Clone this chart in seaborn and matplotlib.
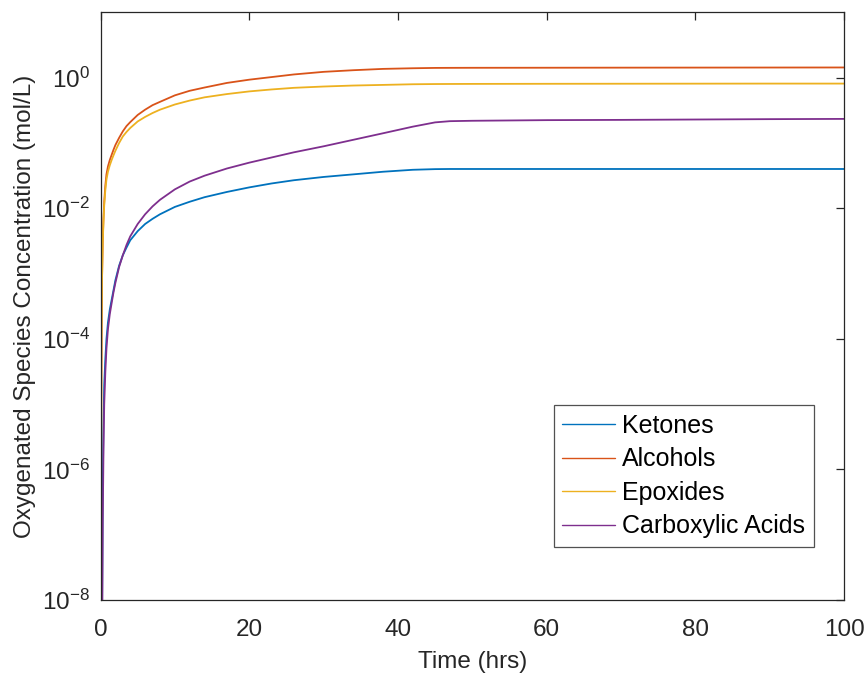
import numpy as np
import pandas as pd
import matplotlib
matplotlib.use("Agg")
import matplotlib.pyplot as plt
import seaborn as sns
from matplotlib.ticker import FixedLocator, FuncFormatter, NullLocator

# ---- data ----
time_hrs = [0, 0.05, 0.1, 0.15, 0.2, 0.3, 0.4, 0.5, 0.65, 0.8,
            1, 1.25, 1.5, 1.75, 2, 2.5, 3, 3.5, 4, 5,
            6, 7, 8, 10, 12, 14, 17, 20, 23, 26,
            30, 34, 38, 42, 45, 47, 50, 60, 70, 80,
            90, 100]

ketones = [1e-12, 3.2e-12, 1e-11, 1e-10, 3.2e-9, 5.0e-7, 5.0e-6, 2.0e-5, 5.0e-5, 1.0e-4,
           1.78e-4, 2.82e-4, 3.98e-4, 5.6e-4, 7.9e-4, 1.32e-3, 1.91e-3, 2.51e-3, 3.24e-3, 4.47e-3,
           5.75e-3, 6.9e-3, 8.1e-3, 1.05e-2, 1.26e-2, 1.48e-2, 1.78e-2, 2.09e-2, 2.40e-2, 2.69e-2,
           3.02e-2, 3.31e-2, 3.63e-2, 3.89e-2, 3.98e-2, 4.0e-2, 4.0e-2, 4.0e-2, 4.0e-2, 4.0e-2,
           4.0e-2, 4.0e-2]

alcohols = [1e-12, 1e-8, 1e-5, 1.58e-4, 7.9e-4, 3.16e-3, 7.1e-3, 1.26e-2, 2.24e-2, 3.31e-2,
            4.37e-2, 5.5e-2, 6.6e-2, 7.9e-2, 9.3e-2, 0.120, 0.151, 0.182, 0.209, 0.269,
            0.324, 0.380, 0.427, 0.537, 0.631, 0.708, 0.832, 0.933, 1.023, 1.122,
            1.230, 1.303, 1.365, 1.396, 1.413, 1.416, 1.419, 1.422, 1.426, 1.429,
            1.432, 1.435]

epoxides = [1e-12, 1e-8, 1e-5, 1.58e-4, 7.9e-4, 3.02e-3, 6.3e-3, 1.12e-2, 1.91e-2, 2.75e-2,
            3.63e-2, 4.57e-2, 5.5e-2, 6.5e-2, 7.6e-2, 0.100, 0.126, 0.148, 0.170, 0.214,
            0.251, 0.288, 0.324, 0.389, 0.447, 0.501, 0.562, 0.617, 0.661, 0.700,
            0.733, 0.759, 0.776, 0.794, 0.800, 0.802, 0.804, 0.807, 0.809, 0.811,
            0.813, 0.813]

carboxylic_acids = [1e-12, 3.2e-12, 1e-11, 3.2e-11, 1e-9, 1.58e-7, 2.0e-6, 1.0e-5, 3.16e-5, 7.1e-5,
                    1.41e-4, 2.40e-4, 3.55e-4, 5.2e-4, 7.2e-4, 1.26e-3, 1.91e-3, 2.75e-3, 3.72e-3, 5.75e-3,
                    8.1e-3, 1.07e-2, 1.35e-2, 1.95e-2, 2.57e-2, 3.16e-2, 4.07e-2, 5.0e-2, 6.0e-2, 7.2e-2,
                    8.9e-2, 0.112, 0.141, 0.178, 0.207, 0.216, 0.219, 0.224, 0.226, 0.229,
                    0.232, 0.234]

species = ["Ketones", "Alcohols", "Epoxides", "Carboxylic Acids"]
colors = ["#0072BD", "#D95319", "#EDB120", "#7E2F8E"]

ytick_values = [1e-8, 1e-6, 1e-4, 1e-2, 1e0]
xtick_values = [0, 20, 40, 60, 80, 100]

# ---- long-form table ----
series = [ketones, alcohols, epoxides, carboxylic_acids]
df = pd.concat([pd.DataFrame({"Time": time_hrs, "Conc": vals, "Species": name})
                for name, vals in zip(species, series)], ignore_index=True)

sns.set_theme(style="white")
plt.rcParams["font.family"] = ["Liberation Sans", "DejaVu Sans"]
plt.rcParams["mathtext.fontset"] = "custom"
plt.rcParams["mathtext.rm"] = "Liberation Sans"
plt.rcParams["mathtext.it"] = "Liberation Sans:italic"
plt.rcParams["mathtext.bf"] = "Liberation Sans:bold"

fig = plt.figure(figsize=(8.68, 6.79), dpi=100)
ax = fig.add_axes([0.1158, 0.1163, 0.8566, 0.8654])

sns.lineplot(data=df, x="Time", y="Conc", hue="Species", hue_order=species,
             palette=colors, estimator=None, sort=False, linewidth=1.3, ax=ax)

ax.set_yscale("log")
ax.set_xlim(0, 100)
ax.set_ylim(1e-8, 10)

dark = "#262626"
ax.xaxis.set_major_locator(FixedLocator(xtick_values))
ax.yaxis.set_major_locator(FixedLocator(ytick_values))
ax.yaxis.set_minor_locator(NullLocator())
ax.yaxis.set_major_formatter(FuncFormatter(
    lambda v, p: r"$\mathregular{10^{%d}}$" % int(round(np.log10(v)))))
ax.xaxis.set_major_formatter(FuncFormatter(lambda v, p: "%d" % v))

ax.tick_params(axis="both", which="both", direction="in", length=6, width=0.9,
               colors=dark, labelsize=17.5, top=True, right=True,
               labelcolor=dark)
ax.tick_params(axis="x", pad=14)
ax.tick_params(axis="y", pad=7.5)
for s in ax.spines.values():
    s.set_visible(True)
    s.set_color(dark)
    s.set_linewidth(0.9)

ax.set_xlabel("Time (hrs)", fontsize=17.5, color=dark, labelpad=7)
ax.set_ylabel("Oxygenated Species Concentration (mol/L)", fontsize=17.5,
              color=dark, labelpad=4)

leg = ax.legend(loc="lower right", bbox_to_anchor=(0.9596, 0.090),
                borderaxespad=0, fontsize=18, frameon=True, fancybox=False,
                handlelength=2.1, handletextpad=0.3, labelspacing=0.38,
                borderpad=0.35, title=None)
leg.get_frame().set_edgecolor(dark)
leg.get_frame().set_linewidth(0.9)
for line in leg.get_lines():
    line.set_linewidth(1.0)
for t in leg.get_texts():
    t.set_color("black")

fig.savefig("out.png", dpi=100, facecolor="white")
